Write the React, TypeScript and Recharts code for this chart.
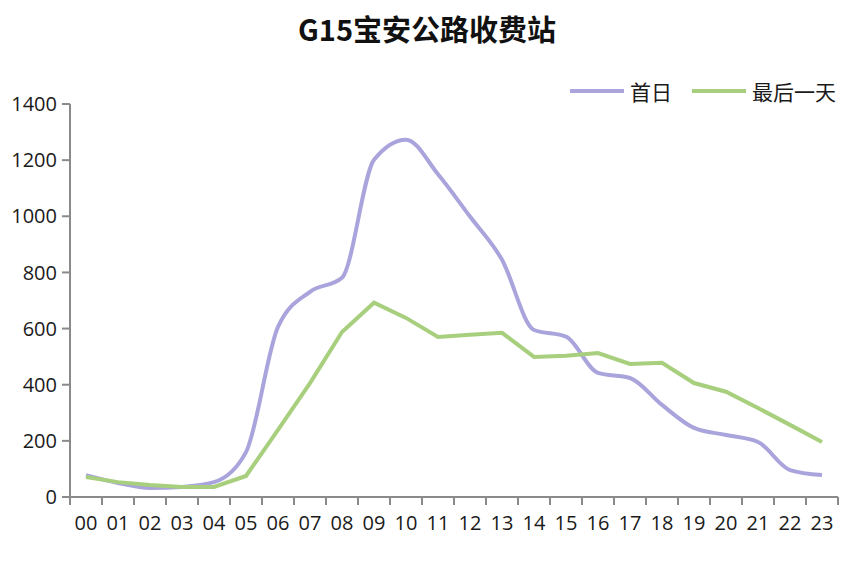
import React from 'react';
import { LineChart, Line, XAxis, YAxis } from 'recharts';

const hours = Array.from({ length: 24 }, (_, i) => i);
const firstDay = [78, 50, 32, 36, 53, 160, 606, 731, 781, 1201, 1273, 1150, 999, 845, 595, 571, 442, 424, 328, 246, 221, 196, 96, 78];
const lastDay = [71, 53, 43, 36, 36, 75, 239, 406, 588, 692, 638, 570, 578, 585, 499, 503, 513, 474, 478, 406, 375, 317, 257, 196];
const yTicks = [0, 200, 400, 600, 800, 1000, 1200, 1400];
// labels at hour centres, tick marks on half hours
const xTicks = [-0.5, ...hours.flatMap((h) => [h, h + 0.5])];

const PURPLE = '#aaa4dc';
const GREEN = '#a7cf7d';
const AXIS = '#8a8a8a';
const FONT = '"Open Sans", "Noto Sans CJK SC", sans-serif';

const data = hours.map((h, i) => ({ h, first: firstDay[i], last: lastDay[i] }));

const XTick = (props: any) => {
  const { x, y, payload } = props;
  const v = payload.value;
  if (Number.isInteger(v)) {
    return (
      <text x={x} y={y + 33} textAnchor="middle" fontSize={20} fill="#1a1a1a" fontFamily={FONT}>
        {String(v).padStart(2, '0')}
      </text>
    );
  }
  return <line x1={x} x2={x} y1={y} y2={y + 8} stroke={AXIS} strokeWidth={2} />;
};

const legendItems = [
  { name: '首日', color: PURPLE },
  { name: '最后一天', color: GREEN },
];

export default function App() {
  return (
    <div style={{ position: 'absolute', left: 0, top: 0, width: 864, height: 563, background: '#fff' }}>
      <div
        style={{
          position: 'absolute',
          top: 7,
          left: 0,
          width: 854,
          textAlign: 'center',
          fontFamily: '"Noto Sans CJK SC", sans-serif',
          fontWeight: 700,
          fontSize: 29,
          color: '#111',
        }}
      >
        G15宝安公路收费站
      </div>
      <div
        style={{
          position: 'absolute',
          top: 76,
          right: 28,
          display: 'flex',
          alignItems: 'center',
          fontFamily: '"Noto Sans CJK SC", sans-serif',
          fontSize: 21,
          color: '#1a1a1a',
        }}
      >
        {legendItems.map((it, i) => (
          <div key={it.name} style={{ display: 'flex', alignItems: 'center', marginLeft: i ? 20 : 0 }}>
            <span style={{ display: 'inline-block', width: 54, height: 4, background: it.color, marginRight: 6 }} />
            <span>{it.name}</span>
          </div>
        ))}
      </div>
      <LineChart width={864} height={563} data={data} margin={{ top: 104, right: 26, bottom: 26, left: 10 }}>
        <XAxis
          dataKey="h"
          type="number"
          domain={[-0.5, 23.5]}
          ticks={xTicks}
          interval={0}
          tick={<XTick />}
          tickLine={false}
          tickSize={0}
          tickMargin={0}
          height={40}
          stroke={AXIS}
          strokeWidth={2}
        />
        <YAxis
          domain={[0, 1400]}
          ticks={yTicks}
          interval={0}
          width={60}
          tickSize={8}
          tickMargin={5}
          stroke={AXIS}
          strokeWidth={2}
          tick={{ fontSize: 20, fill: '#1a1a1a', fontFamily: FONT }}
        />
        <Line dataKey="first" name="首日" type="monotone" stroke={PURPLE} strokeWidth={4} dot={false} isAnimationActive={false} />
        <Line dataKey="last" name="最后一天" type="linear" stroke={GREEN} strokeWidth={4} dot={false} isAnimationActive={false} />
      </LineChart>
    </div>
  );
}
